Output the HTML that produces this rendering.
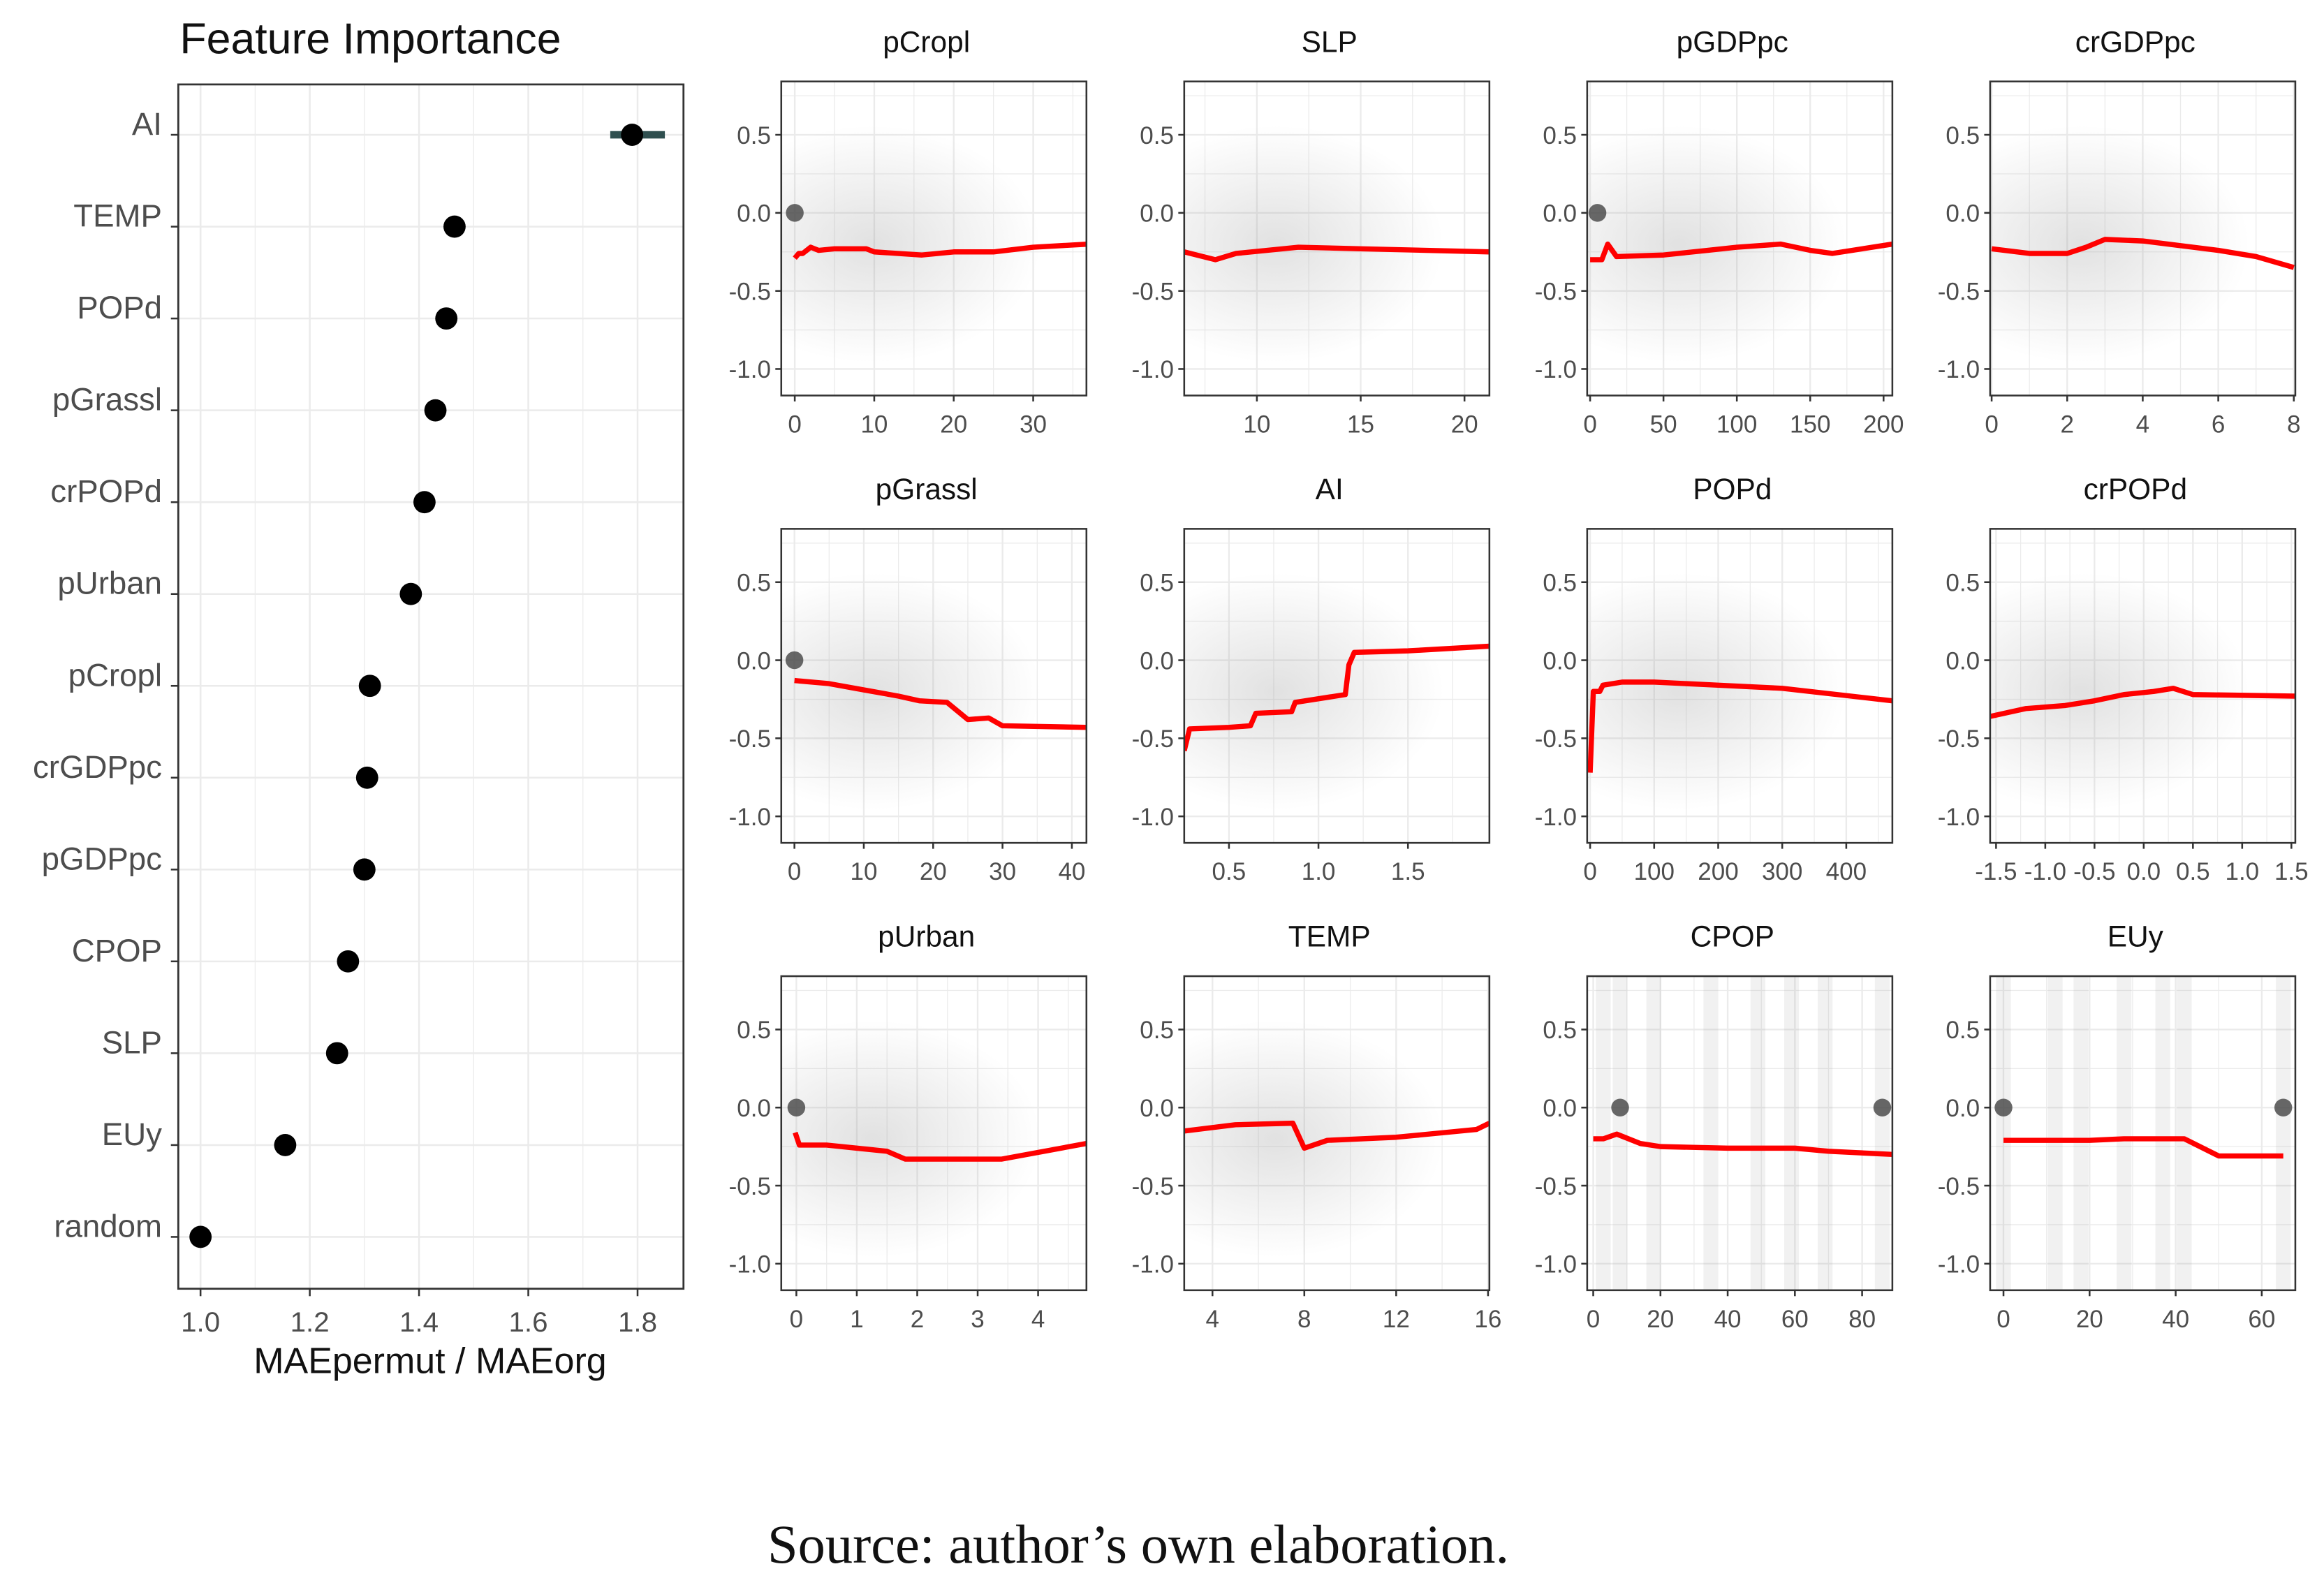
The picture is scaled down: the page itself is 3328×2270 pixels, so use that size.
<!DOCTYPE html>
<html><head><meta charset="utf-8">
<style>
html,body{margin:0;padding:0;background:#fff;}
svg{display:block;}
text{font-family:"Liberation Sans",Arial,sans-serif;}
</style></head>
<body>
<svg id="chart" xmlns="http://www.w3.org/2000/svg" width="3328" height="2270" viewBox="0 0 1568 1070">
<defs>
<radialGradient id="haze" cx="50%" cy="50%" r="50%">
<stop offset="0%" stop-color="#888" stop-opacity="0.25"/>
<stop offset="100%" stop-color="#888" stop-opacity="0"/>
</radialGradient>
</defs>
<g id="fi"></g>
<g id="panels"></g>
<text x="768" y="1055" text-anchor="middle" font-size="37" fill="#111" style="font-family:'Liberation Serif',serif">Source: author’s own elaboration.</text>
</svg>
<script>
// Feature importance data
const fiFeatures = ["AI","TEMP","POPd","pGrassl","crPOPd","pUrban","pCropl","crGDPpc","pGDPpc","CPOP","SLP","EUy","random"];
const fiValues = [1.79,1.465,1.45,1.43,1.41,1.385,1.31,1.305,1.30,1.27,1.25,1.155,1.0];
const fiLower = [1.75,1.46,1.445,1.425,1.40,1.38,1.305,1.30,1.295,1.265,1.245,1.15,1.0];
const fiUpper = [1.85,1.47,1.455,1.435,1.425,1.39,1.315,1.31,1.305,1.275,1.255,1.16,1.0];
const fiTicks = [1.0,1.2,1.4,1.6,1.8];

// ALE panels data
const panelTitles = ["pCropl","SLP","pGDPpc","crGDPpc","pGrassl","AI","POPd","crPOPd","pUrban","TEMP","CPOP","EUy"];
const panelXDomains = [[-1.7,36.7],[6.5,21.2],[-2,206],[-0.04,8.04],[-1.9,42.1],[0.25,1.955],[-4.6,472],[-1.56,1.54],[-0.25,4.8],[2.77,16.06],[-1.8,89],[-3.1,67.8]];
const panelXTicks = [[0,10,20,30],[10,15,20],[0,50,100,150,200],[0,2,4,6,8],[0,10,20,30,40],[0.5,1.0,1.5],[0,100,200,300,400],[-1.5,-1.0,-0.5,0.0,0.5,1.0,1.5],[0,1,2,3,4],[4,8,12,16],[0,20,40,60,80],[0,20,40,60]];
const panelXTickLabels = [["0","10","20","30"],["10","15","20"],["0","50","100","150","200"],["0","2","4","6","8"],["0","10","20","30","40"],["0.5","1.0","1.5"],["0","100","200","300","400"],["-1.5","-1.0","-0.5","0.0","0.5","1.0","1.5"],["0","1","2","3","4"],["4","8","12","16"],["0","20","40","60","80"],["0","20","40","60"]];
const yTicks = [0.5,0.0,-0.5,-1.0];
const yTickLabels = ["0.5","0.0","-0.5","-1.0"];
const aleX = [
 [0,0.5,1,2,3,5,9,10,16,20,25,30,37],
 [6.5,8,9,12,15,21.2],
 [0,8,12,18,50,80,100,130,150,165,206],
 [0,1,2,2.5,3,4,6,7,8],
 [0,5,10,15,18,22,25,28,30,42],
 [0.25,0.28,0.5,0.62,0.65,0.85,0.87,1.15,1.17,1.2,1.5,1.955],
 [0,5,15,20,50,100,200,300,472],
 [-1.56,-1.2,-0.8,-0.5,-0.2,0.1,0.3,0.5,1.54],
 [-0.02,0.05,0.5,1.0,1.5,1.8,2.5,3.4,4.8],
 [2.77,5,7.5,8,9,12,15.5,16.06],
 [0,3,7,14,20,40,60,70,89],
 [0,20,28,42,50,65]
];
const aleY = [
 [-0.29,-0.26,-0.26,-0.22,-0.24,-0.23,-0.23,-0.25,-0.27,-0.25,-0.25,-0.22,-0.2],
 [-0.25,-0.3,-0.26,-0.22,-0.23,-0.25],
 [-0.3,-0.3,-0.2,-0.28,-0.27,-0.24,-0.22,-0.2,-0.24,-0.26,-0.2],
 [-0.23,-0.26,-0.26,-0.22,-0.17,-0.18,-0.24,-0.28,-0.35],
 [-0.13,-0.15,-0.19,-0.23,-0.26,-0.27,-0.38,-0.37,-0.42,-0.43],
 [-0.58,-0.44,-0.43,-0.42,-0.34,-0.33,-0.27,-0.22,-0.03,0.05,0.06,0.09],
 [-0.72,-0.2,-0.2,-0.16,-0.14,-0.14,-0.16,-0.18,-0.26],
 [-0.36,-0.31,-0.29,-0.26,-0.22,-0.2,-0.18,-0.22,-0.23],
 [-0.16,-0.24,-0.24,-0.26,-0.28,-0.33,-0.33,-0.33,-0.23],
 [-0.15,-0.11,-0.1,-0.26,-0.21,-0.19,-0.14,-0.1],
 [-0.2,-0.2,-0.17,-0.23,-0.25,-0.26,-0.26,-0.28,-0.3],
 [-0.21,-0.21,-0.2,-0.2,-0.31,-0.31]
];
const densePtX = [[0],[],[5],[],[0],[],[],[],[0],[],[8,86],[0,65]];
const densePtY = [[0],[],[0],[],[0],[],[],[],[0],[],[0,0],[0,0]];
const stripeX = [[],[],[],[],[],[],[],[],[],[],[3,8,18,35,49,59,69,86],[0,12,18,28,37,42,65]];

const NS="http://www.w3.org/2000/svg";
function mk(tag,attrs,parent){const e=document.createElementNS(NS,tag);for(const k in attrs)e.setAttribute(k,attrs[k]);parent.appendChild(e);return e;}

// ---- Feature importance panel ----
const fi=document.getElementById('fi');
const L={x0:120,x1:461,y0:57,y1:870};
const fx=v=>135+(v-1)*368.75;
const fy=i=>91+i*62;
let t=mk('text',{x:121,y:36,'font-size':29.5,fill:'#111'},fi);t.textContent="Feature Importance";

mk('rect',{x:L.x0,y:L.y0,width:L.x1-L.x0,height:L.y1-L.y0,fill:'#fff'},fi);
for(let v=0.9;v<=1.9;v+=0.1){const X=fx(v);if(X<L.x0||X>L.x1)continue;const major=Math.abs(Math.round(v*5)-v*5)<1e-6;mk('line',{x1:X,x2:X,y1:L.y0,y2:L.y1,stroke:'#ebebeb','stroke-width':major?1.2:0.6},fi);}
fiFeatures.forEach((f,i)=>{const Y=fy(i);mk('line',{x1:L.x0,x2:L.x1,y1:Y,y2:Y,stroke:'#ebebeb','stroke-width':1.2},fi);});
mk('rect',{x:L.x0,y:L.y0,width:L.x1-L.x0,height:L.y1-L.y0,fill:'none',stroke:'#333','stroke-width':1.3},fi);
fiFeatures.forEach((f,i)=>{const Y=fy(i);
 const lab=mk('text',{x:109,y:Y,'text-anchor':'end','font-size':21.5,fill:'#4d4d4d'},fi);lab.textContent=f;
 
 mk('line',{x1:115,x2:L.x0,y1:Y,y2:Y,stroke:'#333','stroke-width':1.2},fi);
 if(fiUpper[i]-fiLower[i]>0.012){const b=mk('line',{x1:fx(fiLower[i]),x2:fx(fiUpper[i]),y1:Y,y2:Y,stroke:'#2f4f4f','stroke-width':5},fi);}
 const c=mk('circle',{cx:fx(fiValues[i]),cy:Y,r:7.5,fill:'#000'},fi);
 
});
fiTicks.forEach(v=>{const X=fx(v);mk('line',{x1:X,x2:X,y1:L.y1,y2:L.y1+5,stroke:'#333','stroke-width':1.2},fi);
 const tl=mk('text',{x:X,y:899,'text-anchor':'middle','font-size':19,fill:'#4d4d4d'},fi);tl.textContent=v.toFixed(1);
 });
t=mk('text',{x:290,y:927,'text-anchor':'middle','font-size':24.5,fill:'#111'},fi);t.textContent="MAEpermut / MAEorg";


// ---- ALE panels ----
const pg=document.getElementById('panels');
const colX=[527,799,1071,1343], W=206, rowY=[55,357,659], H=212;
panelTitles.forEach((name,p)=>{
 const c=p%4,r=Math.floor(p/4);const x0=colX[c],y0=rowY[r];
 const g=mk('g',{},pg);
 const [d0,d1]=panelXDomains[p];
 const sx=v=>x0+(v-d0)/(d1-d0)*W;
 const sy=v=>y0+36+(0.5-v)*105.4;
 const tt=mk('text',{x:x0+W/2-5,y:y0-20,'text-anchor':'middle','font-size':20,fill:'#111'},g);tt.textContent=name;
 
 const cp='clip'+p;const cl=mk('clipPath',{id:cp},g);mk('rect',{x:x0,y:y0,width:W,height:H},cl);
 const inner=mk('g',{'clip-path':'url(#'+cp+')'},g);
 const xt=panelXTicks[p];const step=xt.length>1?xt[1]-xt[0]:1;
 for(let v=xt[0]-step*2;v<=xt[xt.length-1]+step*2;v+=step/2){const X=sx(v);const major=xt.some(q=>Math.abs(q-v)<1e-9);mk('line',{x1:X,x2:X,y1:y0,y2:y0+H,stroke:'#ebebeb','stroke-width':major?1.1:0.6},inner);}
 for(let v=0.75;v>=-1.25;v-=0.25){const Y=sy(v);const major=Math.abs(v*2-Math.round(v*2))<1e-9;mk('line',{x1:x0,x2:x0+W,y1:Y,y2:Y,stroke:'#ebebeb','stroke-width':major?1.1:0.6},inner);}
 if(stripeX[p].length){stripeX[p].forEach(v=>{const s=mk('rect',{x:sx(v)-5,y:y0,width:10,height:H,fill:'#999','fill-opacity':0.14},inner);});}
 else{mk('ellipse',{cx:x0+W*0.3,cy:sy(-0.2),rx:W*0.55,ry:80,fill:'url(#haze)'},inner);}
 densePtX[p].forEach((v,k)=>{const d=mk('circle',{cx:sx(v),cy:sy(densePtY[p][k]),r:6,fill:'#444','fill-opacity':0.8},inner);});
 const pts=aleX[p].map((v,k)=>sx(v).toFixed(2)+','+sy(aleY[p][k]).toFixed(2)).join(' ');
 const ln=mk('polyline',{points:pts,fill:'none',stroke:'#ff0000','stroke-width':3.5,'stroke-linejoin':'round'},inner);
 
 mk('rect',{x:x0,y:y0,width:W,height:H,fill:'none',stroke:'#333','stroke-width':1.2},g);
 yTicks.forEach((v,k)=>{const Y=sy(v);mk('line',{x1:x0-4,x2:x0,y1:Y,y2:Y,stroke:'#333','stroke-width':1.2},g);
  const yl=mk('text',{x:x0-7,y:Y+6,'text-anchor':'end','font-size':16.5,fill:'#4d4d4d'},g);yl.textContent=yTickLabels[k];
  });
 xt.forEach((v,k)=>{const X=sx(v);mk('line',{x1:X,x2:X,y1:y0+H,y2:y0+H+4,stroke:'#333','stroke-width':1.2},g);
  const xl=mk('text',{x:X,y:y0+H+25,'text-anchor':'middle','font-size':16.5,fill:'#4d4d4d'},g);xl.textContent=panelXTickLabels[p][k];
  });
});
</script>
</body></html>
